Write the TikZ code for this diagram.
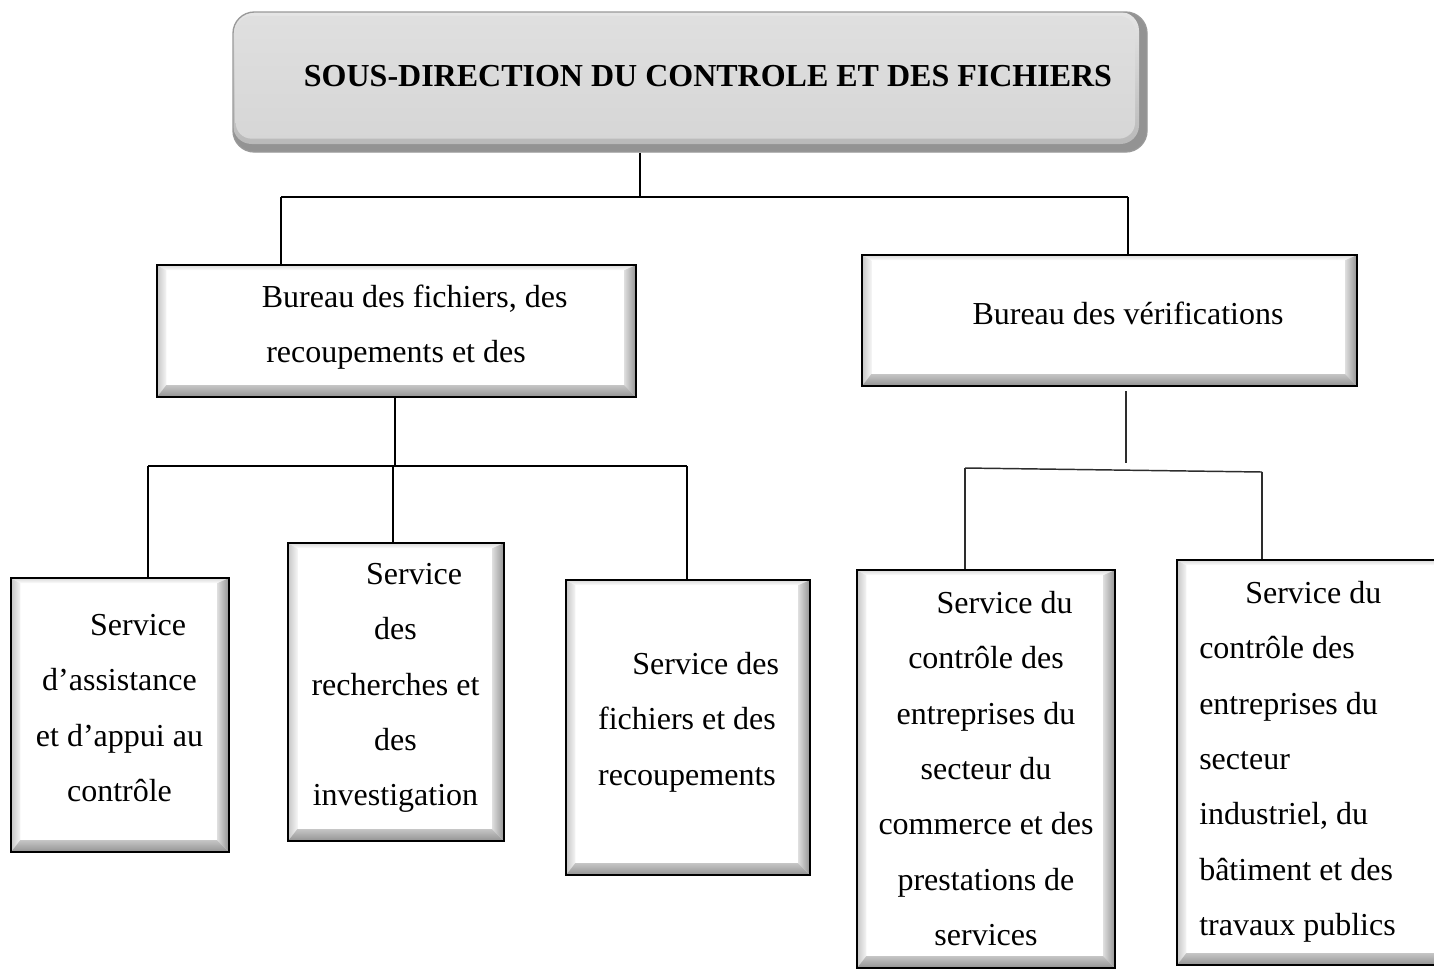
\documentclass[tikz,border=0pt]{standalone}
\usepackage{fontspec}
\setmainfont{Liberation Serif}
\usetikzlibrary{fit,calc}

\begin{document}
\begin{tikzpicture}[x=0.75pt,y=-0.75pt,
  % framed box with a bevelled inner edge
  bevelbox/.style={draw=black, line width=1.8pt, fill=white, inner sep=0pt,
    path picture={
      \path (path picture bounding box.north west) coordinate (bNW)
            (path picture bounding box.north east) coordinate (bNE)
            (path picture bounding box.south west) coordinate (bSW)
            (path picture bounding box.south east) coordinate (bSE);
      \path ([shift={(7pt,-4pt)}]bNW) coordinate (iNW)
            ([shift={(-9pt,-4pt)}]bNE) coordinate (iNE)
            ([shift={(7pt,9pt)}]bSW) coordinate (iSW)
            ([shift={(-9pt,9pt)}]bSE) coordinate (iSE);
      \shade[top color=gray!30, bottom color=white] (bNW) -- (bNE) -- (iNE) -- (iNW) -- cycle;
      \shade[left color=gray!45, right color=gray!8] (bNW) -- (iNW) -- (iSW) -- (bSW) -- cycle;
      \shade[left color=gray!25, right color=gray!85] (bNE) -- (bSE) -- (iSE) -- (iNE) -- cycle;
      \shade[top color=gray!45, bottom color=gray!85] (bSW) -- (iSW) -- (iSE) -- (bSE) -- cycle;
    }},
  % rounded grey header box with a dark lower rim
  headbox/.style={draw=gray!80, line width=1pt, rounded corners=16pt, fill=gray!85, inner sep=0pt,
    path picture={
      \path (path picture bounding box.north west) coordinate (hNW)
            (path picture bounding box.south east) coordinate (hSE);
      \shade[rounded corners=14pt, top color=gray!20, bottom color=gray!55]
        (hNW) rectangle ([shift={(-6pt,6pt)}]hSE);
      \shade[rounded corners=12pt, top color=gray!25, bottom color=gray!32]
        ([shift={(2pt,-3pt)}]hNW) rectangle ([shift={(-9pt,10pt)}]hSE);
    }},
  txt/.style={inner sep=0pt, font=\fontsize{24}{41.5}\selectfont, execute at begin node=\strut},
  ctxt/.style={txt, align=flush center, anchor=north},
  ltxt/.style={txt, align=flush left, anchor=north west},
  conn/.style={line width=0.8pt, black},
  connb/.style={line width=1.1pt, gray!35!black},
]
\useasboundingbox (0,0) rectangle (1434,971);
\clip (0,0) rectangle (1434,971);
\fill[white] (0,0) rectangle (1434,971);

% ---- boxes ----
\node[headbox, fit={(233,12) (1147,152)}] (top) {};
\node[txt, font=\fontsize{24}{41.5}\selectfont\bfseries, anchor=north] (topt) at (708,47.5)
  {SOUS-DIRECTION DU CONTROLE ET DES FICHIERS};

\node[bevelbox, fit={(157,265) (636,397)}] (bf) {};
\node[ctxt, text width=300pt] (bft) at (396,268.5)
  {\hspace*{28pt}Bureau des fichiers, des\\ recoupements et des};

\node[bevelbox, fit={(862,255) (1357,386)}] (bv) {};
\node[txt, anchor=north] (bvt) at (1128,285.5) {Bureau des vérifications};

\node[bevelbox, fit={(11,578) (229,852)}] (s1) {};
\node[ctxt, text width=150pt] (s1t) at (119.5,596.5)
  {\hspace*{28pt}Service\\ d’assistance\\ et d’appui au\\ contrôle};

\node[bevelbox, fit={(288,543) (504,841)}] (s2) {};
\node[ctxt, text width=150pt] (s2t) at (395.5,545.5)
  {\hspace*{28pt}Service\\ des\\ recherches et\\ des\\ investigation};

\node[bevelbox, fit={(566,580) (810,875)}] (s3) {};
\node[ctxt, text width=160pt] (s3t) at (687,635.5)
  {\hspace*{28pt}Service des\\ fichiers et des\\ recoupements};

\node[bevelbox, fit={(857,570) (1115,968)}] (s4) {};
\node[ctxt, text width=180pt] (s4t) at (986,574.5)
  {\hspace*{28pt}Service du\\ contrôle des\\ entreprises du\\ secteur du\\ commerce et des\\ prestations de\\ services};

\node[bevelbox, fit={(1177,560) (1446,965)}] (s5) {};
\node[ltxt, text width=180pt] (s5t) at (1199,564.5)
  {\hspace*{34.5pt}Service du\\ contrôle des\\ entreprises du\\ secteur\\ industriel, du\\ bâtiment et des\\ travaux publics};

% ---- connectors: header to bureaux ----
\coordinate (j1) at (640,197);
\coordinate (b1l) at (281,197);
\coordinate (b1r) at (1128,197);
\draw[conn] (top.south -| j1) -- (j1);
\draw[conn] (b1l) -- (b1r);
\draw[conn] (b1l) -- (b1l |- bf.north);
\draw[conn] (b1r) -- (b1r |- bv.north);

% ---- connectors: first bureau to its services ----
\coordinate (j2) at (395,466);
\coordinate (b2l) at (148,466);
\coordinate (b2m) at (393,466);
\coordinate (b2r) at (687,466);
\draw[conn] (bf.south -| j2) -- (j2);
\draw[conn] (b2l) -- (b2r);
\draw[conn] (b2l) -- (b2l |- s1.north);
\draw[conn] (b2m) -- (b2m |- s2.north);
\draw[conn] (b2r) -- (b2r |- s3.north);

% ---- connectors: second bureau to its services ----
\coordinate (j3) at (1126,463);
\coordinate (b3l) at (965,468);
\coordinate (b3r) at (1262,472);
\draw[connb] ([yshift=-3pt]bv.south -| j3) -- (j3);
\draw[connb] (b3l) -- (b3r);
\draw[connb] (b3l) -- (b3l |- s4.north);
\draw[connb] (b3r) -- (b3r |- s5.north);
\end{tikzpicture}
\end{document}
